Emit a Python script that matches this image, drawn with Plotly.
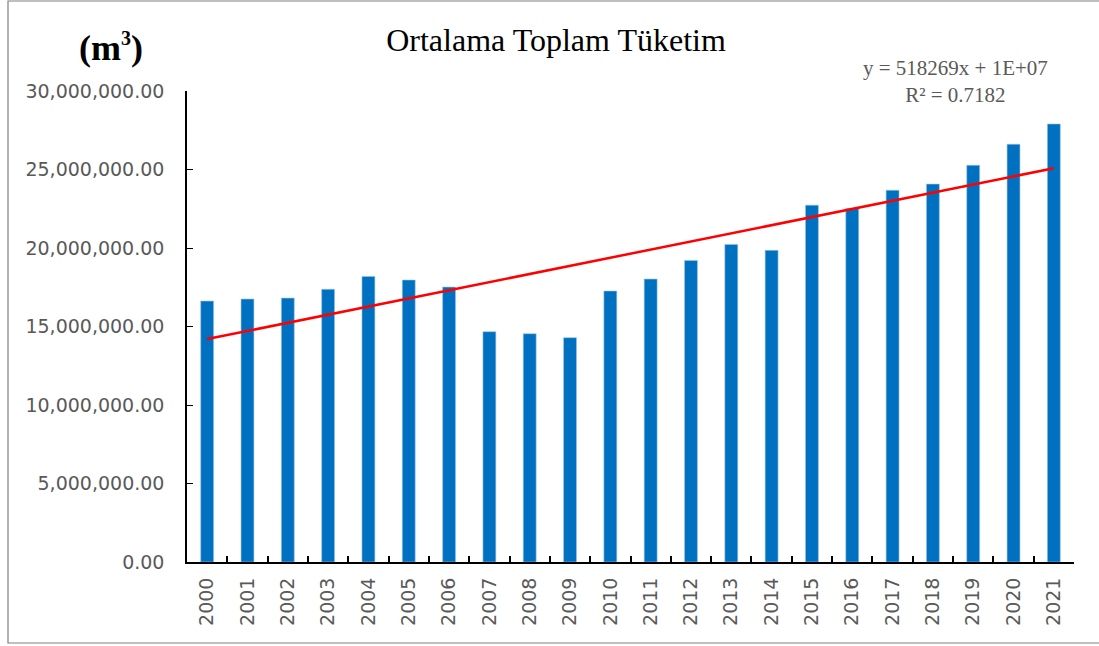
import numpy as np
import plotly.graph_objects as go

# Yearly average total consumption (m³)
years = [str(y) for y in range(2000, 2022)]
consumption = [
    16620000, 16750000, 16810000, 17370000, 18190000, 17960000, 17510000,
    14670000, 14540000, 14290000, 17260000, 18020000, 19210000, 20230000,
    19850000, 22730000, 22520000, 23680000, 24070000, 25270000, 26610000,
    27900000,
]
y_ticks = [0, 5000000, 10000000, 15000000, 20000000, 25000000, 30000000]
trend_slope = 518269
r_squared = 0.7182

# Linear trend over the year index 1..N, using the reported slope
idx = np.arange(1, len(years) + 1)
vals = np.array(consumption, dtype=float)
intercept = vals.mean() - trend_slope * idx.mean()
trend = trend_slope * idx + intercept

fig = go.Figure()
fig.add_trace(go.Bar(
    x=years, y=consumption,
    marker=dict(color="#0070C0", line=dict(color="#9DC3E6", width=0.6)),
    width=0.32,
    showlegend=False,
))
fig.add_trace(go.Scatter(
    x=years, y=trend, mode="lines",
    line=dict(color="#FF0000", width=2.5),
    showlegend=False,
))

fig.update_layout(
    width=1099, height=646,
    margin=dict(l=187, r=25, t=91, b=84),
    paper_bgcolor="white", plot_bgcolor="white",
    title=dict(
        text="Ortalama Toplam Tüketim",
        font=dict(family="Liberation Serif", size=32, color="#000000"),
        x=556 / 1099, xanchor="center", y=1 - 40 / 646, yanchor="middle",
    ),
    xaxis=dict(
        type="category",
        tickson="boundaries",
        ticks="inside", ticklen=6, tickwidth=2, tickcolor="#000000",
        showline=True, linecolor="#000000", linewidth=2,
        tickangle=-90,
        ticklabelstandoff=6,
        tickfont=dict(family="DejaVu Sans", size=19, color="#595959"),
        showgrid=False,
    ),
    yaxis=dict(
        range=[0, 30000000],
        tickvals=y_ticks,
        ticktext=[f"{v:,.2f}" for v in y_ticks],
        ticks="inside", ticklen=6, tickwidth=1.2, tickcolor="#000000",
        showline=True, linecolor="#000000", linewidth=1.5,
        ticklabelstandoff=17,
        tickfont=dict(family="DejaVu Sans", size=19, color="#595959"),
        showgrid=False, zeroline=False,
    ),
    annotations=[
        dict(
            text="<b>(m<sup><span style='font-size:20px'>3</span></sup>)</b>",
            xref="paper", yref="paper",
            x=(111 - 187) / 887, y=(646 - 84 - 47) / 471,
            xanchor="center", yanchor="middle", showarrow=False,
            font=dict(family="Liberation Serif", size=36, color="#000000"),
        ),
        dict(
            text=f"y = {trend_slope}x + 1E+07<br>R² = {r_squared}",
            xref="paper", yref="paper",
            x=(955 - 187) / 887, y=(646 - 84 - 81) / 471,
            xanchor="center", yanchor="middle", showarrow=False,
            align="center",
            font=dict(family="Liberation Serif", size=21, color="#595959"),
        ),
    ],
    shapes=[
        dict(type="rect", xref="paper", yref="paper",
             x0=(8 - 187) / 887, x1=(1110 - 187) / 887,
             y0=(646 - 84 - 643) / 471, y1=(646 - 84 - 1) / 471,
             line=dict(color="#808080", width=1.2), layer="below"),
    ],
)

fig.write_html("out.html")
